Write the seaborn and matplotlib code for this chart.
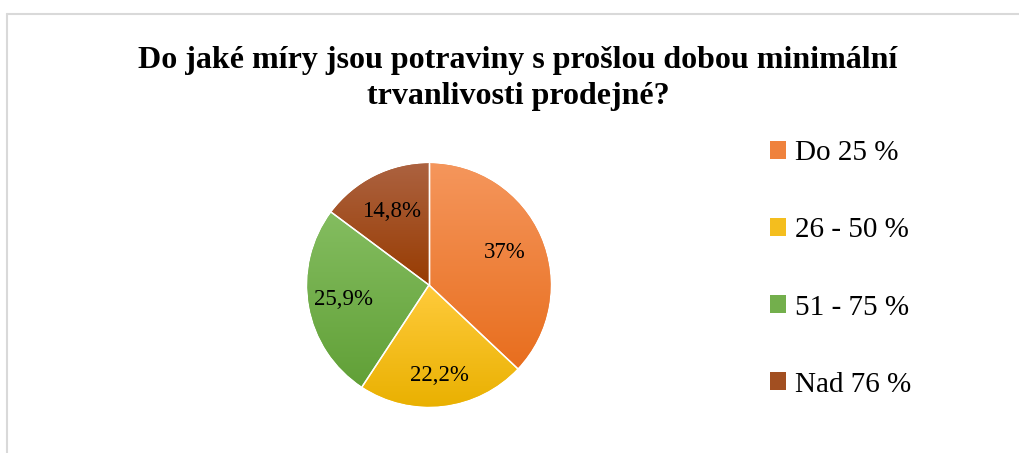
import numpy as np
import matplotlib
matplotlib.use("Agg")
import matplotlib.pyplot as plt
import matplotlib.colors as mcolors
from matplotlib.patches import Patch
import seaborn as sns

# Survey answers: share of expired-date foods that are still sellable
categories = ["Do 25 %", "26 - 50 %", "51 - 75 %", "Nad 76 %"]
shares = [37, 22.2, 25.9, 14.8]
share_labels = ["37%", "22,2%", "25,9%", "14,8%"]
title = "Do jaké míry jsou potraviny s prošlou dobou minimální\ntrvanlivosti prodejné?"

# light (top) / dark (bottom) shade of each slice
top_colors = ["#F5965C", "#FFCB3C", "#84BD60", "#AC6240"]
bottom_colors = ["#E86E1E", "#E9B000", "#61A037", "#983C02"]

sns.set_theme(style="white")
plt.rcParams["font.family"] = ["Liberation Serif", "DejaVu Serif"]
plt.rcParams["text.color"] = "black"

W, H = 1019, 453
fig = plt.figure(figsize=(W / 100, H / 100), dpi=100)
fig.patch.set_facecolor("white")

# chart frame (top and left edges)
frame = fig.add_axes([0, 0, 1, 1], zorder=-1)
frame.set_xlim(0, W)
frame.set_ylim(H, 0)
frame.axis("off")
frame.plot([7, W], [14, 14], color="#D9D9D9", lw=1.5)
frame.plot([7, 7], [14, H], color="#D9D9D9", lw=1.5)

cx, cy, r = 429, 285, 124
ax = fig.add_axes([(cx - r) / W, (H - cy - r) / H, 2 * r / W, 2 * r / H])
ax.set_aspect("equal")
ax.axis("off")

mid_colors = [
    tuple((np.array(mcolors.to_rgb(a)) + np.array(mcolors.to_rgb(b))) / 2)
    for a, b in zip(top_colors, bottom_colors)
]
wedges, _ = ax.pie(shares, startangle=90, counterclock=False, radius=1,
                   colors=mid_colors, normalize=True,
                   wedgeprops=dict(linewidth=0))

# vertical gradient fill inside each slice's own vertical extent
for w, c_top, c_bot in zip(wedges, top_colors, bottom_colors):
    verts = w.get_path().vertices
    y0, y1 = verts[:, 1].min(), verts[:, 1].max()
    cmap = mcolors.LinearSegmentedColormap.from_list("g", [c_bot, c_top])
    grad = np.linspace(0, 1, 256).reshape(-1, 1)
    im = ax.imshow(grad, cmap=cmap, extent=[-1, 1, y0, y1], origin="lower",
                   aspect="auto", zorder=2, interpolation="bilinear")
    im.set_clip_path(w)

# white separators between slices
for w in wedges:
    for ang in (w.theta1, w.theta2):
        a = np.deg2rad(ang)
        ax.plot([0, np.cos(a)], [0, np.sin(a)], color="white", lw=1.0, zorder=3)

ax.set_xlim(-1.02, 1.02)
ax.set_ylim(-1.02, 1.02)

label_dist = [0.68, 0.75, 0.71, 0.68]
for w, txt, d in zip(wedges, share_labels, label_dist):
    a = np.deg2rad((w.theta1 + w.theta2) / 2)
    ax.text(d * np.cos(a), d * np.sin(a), txt, ha="center", va="center",
            fontsize=16.5, color="black", zorder=4)

fig.text(518 / W, 1 - 78.5 / H, title, ha="center", va="center",
         fontsize=23, fontweight="bold", linespacing=1.32, color="black")

handles = [Patch(facecolor=c, edgecolor="none") for c in mid_colors]
fig.legend(handles, categories, loc="center left",
           bbox_to_anchor=(770 / W, 1 - 269 / H), frameon=False,
           fontsize=21, labelspacing=1.75, handlelength=0.55,
           handleheight=0.55, handletextpad=0.3, borderpad=0,
           borderaxespad=0, labelcolor="black")

fig.savefig("out.png", dpi=100, facecolor="white")
